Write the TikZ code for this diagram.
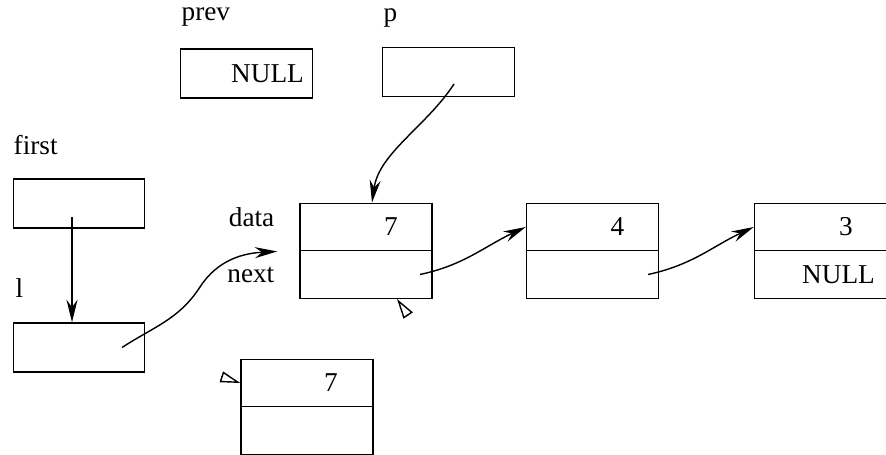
\documentclass[tikz,border=0pt]{standalone}
\usepackage{fontspec}
\setmainfont{Liberation Serif}
\usetikzlibrary{arrows.meta, positioning, arrows, calc}

\begin{document}
\begin{tikzpicture}[->, >={Stealth[length=0.45cm, width=0.22cm]}, line width=0.8pt, node distance=0.95cm, on grid,
    font=\fontsize{15.5}{18}\selectfont,
    ptr/.style={draw, rectangle, minimum width=2.63cm, minimum height=0.98cm, inner sep=0pt},
    field/.style={draw, rectangle, minimum width=2.64cm, minimum height=0.95cm, inner sep=0pt},
    lbl/.style={inner sep=0pt},
    hollow/.style={-{Triangle[open, length=0.4cm, width=0.22cm]}}]

                        \useasboundingbox (0,0) rectangle (17.72,-9.1);

                        % Pointer variables
                        \node (prev) [ptr] at (4.93,-1.47) {};
                        \node (p) [ptr] at (8.97,-1.44) {};
                        \node (first) [ptr] at (1.58,-4.07) {};
                        \node (l) [ptr] at (1.58,-6.95) {};
                        \node (prevval) [right=0.42 of prev] {NULL};

                        \node (prevlbl) [lbl, anchor=base west] at (3.62,-0.42) {prev};
                        \node (plbl) [lbl, anchor=base west] at (7.66,-0.44) {p};
                        \node (firstlbl) [lbl, anchor=base west] at (0.26,-3.1) {first};
                        \node (llbl) [lbl, anchor=base west] at (0.3,-5.96) {l};

                        % List cells
                        \node (n1d) [field] at (7.32,-4.54) {};
                        \node (n1n) [field, below=of n1d] {};
                        \node (n2d) [field, right=4.53 of n1d] {};
                        \node (n2n) [field, below=of n2d] {};
                        \node (n3d) [field, right=4.56 of n2d] {};
                        \node (n3n) [field, below=of n3d] {};
                        \node (n4d) [field] at (6.14,-7.66) {};
                        \node (n4n) [field, below=of n4d] {};

                        \node (v1) [right=0.5 of n1d] {7};
                        \node (v2) [right=0.5 of n2d] {4};
                        \node (v3) [right=0.51 of n3d] {3};
                        \node (v3n) [right=0.36 of n3n] {NULL};
                        \node (v4) [right=0.48 of n4d] {7};

                        \node (datalbl) [lbl, anchor=base east] at (5.5,-4.54) {data};
                        \node (nextlbl) [lbl, anchor=base east] at (5.5,-5.66) {next};

                        % Pointers
                        \coordinate (lbend) at (4.0,-5.74);
                        \coordinate (ltip) at ([xshift=-0.44cm]n1d.south west);
                        \draw ([xshift=-0.14cm,yshift=-0.28cm]first.center) -- ([xshift=-0.14cm]l.north);
                        \draw ([xshift=0.86cm]l.center) to[out=33, in=237] (lbend) to[out=57, in=183] (ltip);
                        \draw ([xshift=0.11cm,yshift=-0.24cm]p.center)
                            .. controls +(-123:1) and +(82:1) .. ([xshift=0.12cm]n1d.north);
                        \draw ([xshift=1.08cm]n1n.center) to[out=12, in=205] (n2d.west);
                        \draw ([xshift=1.11cm]n2n.center) to[out=12, in=205] (n3d.west);

                        % Markers
                        \coordinate (t1tip) at ([xshift=0.62cm]n1n.south);
                        \coordinate (t4tip) at (n4d.west);
                        \draw[hollow] ($(t1tip)+(-56:0.4)$) -- (t1tip);
                        \draw[hollow] ($(t4tip)+(162:0.4)$) -- (t4tip);

                \end{tikzpicture}
\end{document}
